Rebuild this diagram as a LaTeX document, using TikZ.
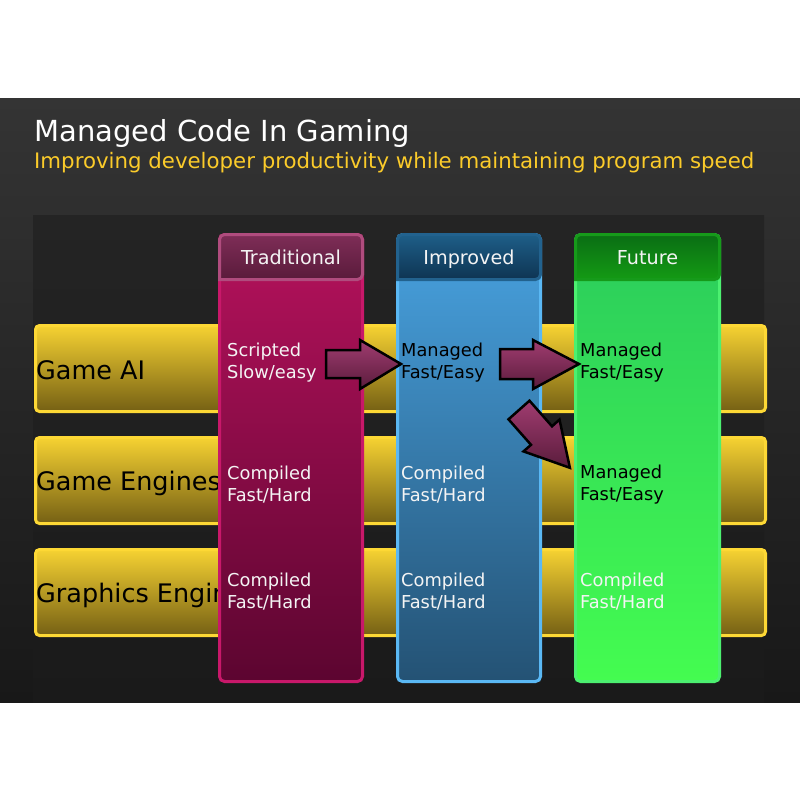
\documentclass[tikz,border=0pt]{standalone}
\usepackage{fontspec}
\setmainfont{DejaVu Sans}
\definecolor{bgtop}{HTML}{343434}
\definecolor{bgbot}{HTML}{181818}
\definecolor{intop}{HTML}{242424}
\definecolor{inbot}{HTML}{1A1A1A}
\definecolor{barline}{HTML}{FDD835}
\definecolor{bartop}{HTML}{F6D232}
\definecolor{barbot}{HTML}{756014}
\definecolor{subyel}{HTML}{FBCB2A}
\definecolor{trline}{HTML}{C8186A}
\definecolor{trtop}{HTML}{B5125C}
\definecolor{trbot}{HTML}{5C0530}
\definecolor{trhline}{HTML}{B04C7E}
\definecolor{trhtop}{HTML}{7E2D57}
\definecolor{trhbot}{HTML}{5A1B3B}
\definecolor{imline}{HTML}{5AB8F4}
\definecolor{imtop}{HTML}{48A2E0}
\definecolor{imbot}{HTML}{245274}
\definecolor{imhline}{HTML}{22628E}
\definecolor{imhtop}{HTML}{1E5E88}
\definecolor{imhbot}{HTML}{0E3452}
\definecolor{fuline}{HTML}{4CF070}
\definecolor{futop}{HTML}{2BCC5C}
\definecolor{fubot}{HTML}{44FC50}
\definecolor{fuhline}{HTML}{169A1A}
\definecolor{fuhtop}{HTML}{0A6E14}
\definecolor{fuhbot}{HTML}{149A14}
\definecolor{artop}{HTML}{A03C70}
\definecolor{arbot}{HTML}{5A1C3C}
\definecolor{wtext}{HTML}{F4F4F4}
\tikzset{
  bar/.style={draw=barline, line width=3pt, rounded corners=4pt, top color=bartop, bottom color=barbot},
  colbox/.style={line width=3pt, rounded corners=5pt},
  hdrbox/.style={line width=3pt, rounded corners=5pt},
  blockarrow/.style={draw=black, line width=2.5pt, line join=miter, top color=artop, bottom color=arbot},
  barlabel/.style={anchor=base west, inner sep=0pt, font=\fontsize{25.5}{30}\selectfont, text=black},
  cell/.style={anchor=west, inner sep=0pt, align=left, font=\fontsize{17.8}{22}\selectfont},
  hdrtext/.style={anchor=base, inner sep=0pt, font=\fontsize{19.2}{23}\selectfont, text=wtext},
}
\begin{document}
\begin{tikzpicture}[x=1pt,y=-1pt]
\useasboundingbox (0,0) rectangle (800,800);
\fill[white] (0,0) rectangle (800,800);
% panels
\shade[top color=bgtop, bottom color=bgbot] (0,98) rectangle (800,702);
\shade[top color=intop, bottom color=inbot] (33,215) rectangle (764,702);
% title
\node[anchor=base west, inner sep=0pt, text=white, font=\fontsize{29}{34}\selectfont] (title) at (34,141) {Managed Code In Gaming};
\node[anchor=base west, inner sep=0pt, text=subyel, font=\fontsize{21.3}{26}\selectfont] (subtitle) at (34,168) {Improving developer productivity while maintaining program speed};
% bars
\path[bar] (35.5,325.5) rectangle (765.5,411.5);
\path[bar] (35.5,437.5) rectangle (765.5,523.5);
\path[bar] (35.5,549.5) rectangle (765.5,635.5);
\node[barlabel] (ai) at (36,379) {Game AI};
\node[barlabel] (ge) at (36,490) {Game Engines};
\node[barlabel] (gr) at (36,602) {Graphics Engines};
% columns
\path[colbox, draw=trline, top color=trtop, bottom color=trbot] (219.5,234.5) rectangle (362.5,681.5);
\path[hdrbox, draw=trhline, top color=trhtop, bottom color=trhbot] (219.5,279.5) -- (219.5,234.5) -- (362.5,234.5) -- (362.5,279.5) [sharp corners] -- cycle;
\path[colbox, draw=imline, top color=imtop, bottom color=imbot] (397.5,234.5) rectangle (540.5,681.5);
\path[hdrbox, draw=imhline, top color=imhtop, bottom color=imhbot] (397.5,279.5) -- (397.5,234.5) -- (540.5,234.5) -- (540.5,279.5) [sharp corners] -- cycle;
\path[colbox, draw=fuline, top color=futop, bottom color=fubot] (575.5,234.5) rectangle (719.5,681.5);
\path[hdrbox, draw=fuhline, top color=fuhtop, bottom color=fuhbot] (575.5,279.5) -- (575.5,234.5) -- (719.5,234.5) -- (719.5,279.5) [sharp corners] -- cycle;
\node[hdrtext] (htr) at (291,264) {Traditional};
\node[hdrtext] (him) at (469,264) {Improved};
\node[hdrtext] (hfu) at (647.5,264) {Future};
% cells
\node[cell, text=wtext] (t1) at (227,363) {Scripted\\Slow/easy};
\node[cell, text=wtext] (t2) at (227,484.5) {Compiled\\Fast/Hard};
\node[cell, text=wtext] (t3) at (227,591.5) {Compiled\\Fast/Hard};
\node[cell, text=black] (i1) at (401,363) {Managed\\Fast/Easy};
\node[cell, text=wtext] (i2) at (401,484.5) {Compiled\\Fast/Hard};
\node[cell, text=wtext] (i3) at (401,591.5) {Compiled\\Fast/Hard};
\node[cell, text=black] (f1) at (580,363) {Managed\\Fast/Easy};
\node[cell, text=black] (f2) at (580,484.5) {Managed\\Fast/Easy};
\node[cell, text=wtext] (f3) at (580,591.5) {Compiled\\Fast/Hard};
% block arrows
\path[blockarrow] (326,350) -- (360,350) -- (360,340) -- (401,364) -- (360,389) -- (360,378) -- (326,378) -- cycle;
\path[blockarrow] (500,349) -- (533,349) -- (533,340) -- (579,364) -- (533,389) -- (533,379) -- (500,379) -- cycle;
\path[blockarrow] (529.5,400.7) -- (552,426.3) -- (559.5,419.6) -- (569.9,467.8) -- (523.5,451.4) -- (531,444.8) -- (508.5,419.3) -- cycle;
\end{tikzpicture}
\end{document}
